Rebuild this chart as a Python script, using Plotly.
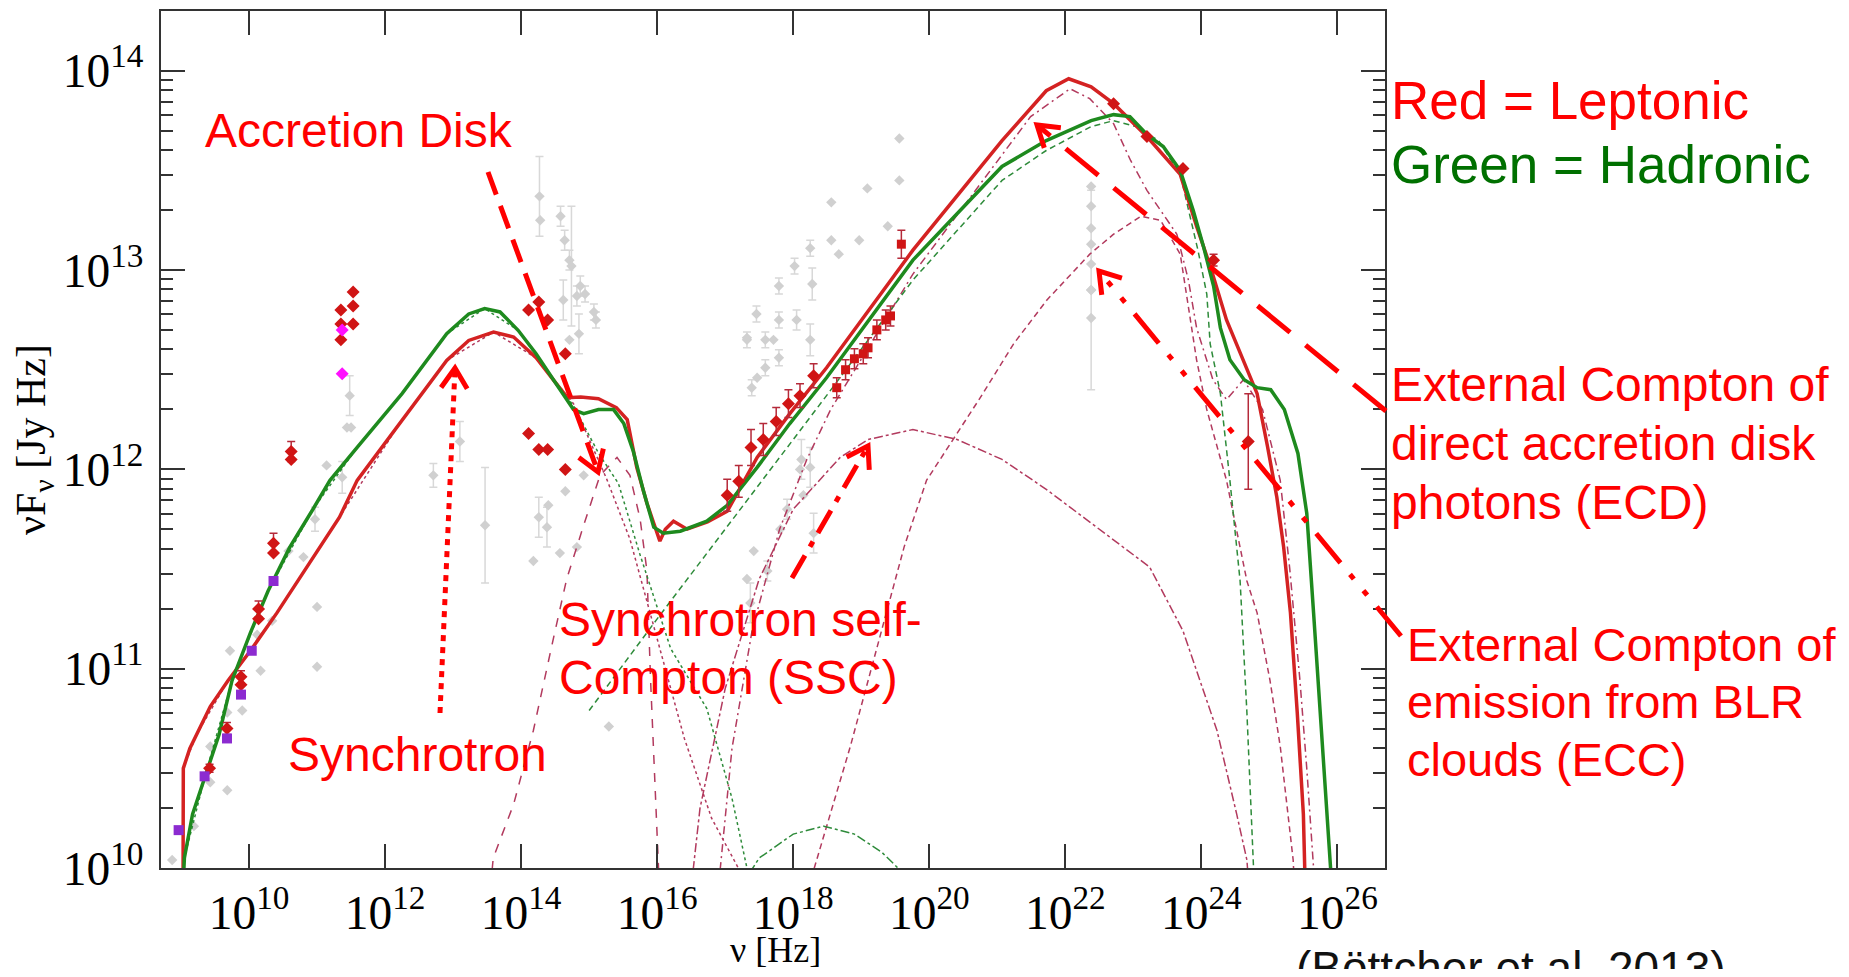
import numpy as np
import plotly.graph_objects as go

# ---------------- data (log10 nu [Hz], log10 nuFnu [Jy Hz]) ----------------
lep_total_lognu = [9.03, 9.034, 9.13, 9.23, 9.43, 9.69, 10.02, 10.41, 10.94, 11.33, 11.59, 12.25,
                   12.906, 13.23, 13.595, 13.89, 14.22, 14.48, 14.68, 14.876, 15.137, 15.40, 15.56,
                   15.70, 15.85, 15.95, 16.04, 16.12, 16.24, 16.44, 16.74, 17.03, 17.47, 17.95, 18.49,
                   19.76, 21.07, 21.72, 22.05, 22.38, 22.71, 23.20, 23.44, 23.69, 23.93, 24.13, 24.37,
                   24.62, 24.82, 24.97, 25.11, 25.21, 25.31, 25.41, 25.50, 25.52, 25.53]
lep_total_logflux = [9.9, 10.5, 10.6, 10.67, 10.81, 10.94, 11.09, 11.28, 11.56, 11.76, 11.945, 12.25,
                     12.547, 12.647, 12.689, 12.664, 12.56, 12.447, 12.36, 12.363, 12.355, 12.31, 12.25,
                     12.01, 11.83, 11.73, 11.64, 11.70, 11.74, 11.70, 11.736, 11.79, 12.06, 12.28, 12.51,
                     13.10, 13.65, 13.90, 13.96, 13.92, 13.835, 13.67, 13.58, 13.48, 13.22, 13.02, 12.75,
                     12.55, 12.38, 12.12, 11.86, 11.61, 11.28, 10.78, 10.27, 10.0, 9.9]

had_total_lognu = [9.03, 9.05, 9.17, 9.36, 9.56, 9.75, 10.02, 10.28, 10.6, 10.94, 11.19, 11.59, 12.25,
                   12.906, 13.23, 13.464, 13.69, 13.956, 14.22, 14.48, 14.77, 14.92, 15.137, 15.36,
                   15.51, 15.65, 15.80, 15.95, 16.09, 16.34, 16.73, 17.03, 17.47, 17.95, 18.49, 19.76,
                   21.07, 21.72, 22.38, 22.71, 22.95, 23.20, 23.44, 23.69, 23.88, 24.03, 24.18, 24.28,
                   24.42, 24.63, 24.82, 25.02, 25.22, 25.42, 25.55, 25.65, 25.75, 25.85, 25.90, 25.91]
had_total_logflux = [9.9, 10.05, 10.27, 10.47, 10.67, 10.94, 11.18, 11.39, 11.61, 11.80, 11.945, 12.11,
                     12.38, 12.681, 12.78, 12.807, 12.79, 12.698, 12.58, 12.447, 12.30, 12.28, 12.30,
                     12.30, 12.23, 12.09, 11.89, 11.71, 11.68, 11.69, 11.74, 11.82, 12.01, 12.23, 12.46,
                     13.05, 13.52, 13.65, 13.75, 13.78, 13.77, 13.68, 13.62, 13.50, 13.30, 13.12, 12.92,
                     12.71, 12.55, 12.45, 12.41, 12.40, 12.30, 12.08, 11.78, 11.28, 10.78, 10.27, 10.0, 9.9]

# leptonic components
lep_sync_lognu = [9.03, 9.034, 9.23, 9.69, 10.41, 11.33, 12.25, 12.906, 13.595, 14.22, 14.77, 15.26,
                  15.6, 16.0, 16.4, 16.8, 17.2, 17.35]
lep_sync_logflux = [9.9, 10.5, 10.67, 10.94, 11.28, 11.76, 12.25, 12.547, 12.689, 12.56, 12.33, 11.95,
                    11.65, 11.15, 10.65, 10.25, 10.0, 9.9]
lep_disk_lognu = [13.55, 13.59, 13.89, 14.18, 14.48, 14.67, 14.92, 15.16, 15.41, 15.60, 15.75, 15.85,
                  15.90, 15.97, 16.02, 16.03]
lep_disk_logflux = [9.9, 10.05, 10.32, 10.69, 11.16, 11.45, 11.72, 11.97, 12.06, 11.97, 11.75, 11.49,
                    10.97, 10.45, 10.0, 9.9]
lep_ssc_lognu = [16.5, 16.63, 17.0, 17.5, 18.0, 18.69, 19.1, 19.76, 20.41, 21.07, 21.72, 22.38, 23.04,
                 23.24, 23.73, 24.23, 24.52, 24.67, 24.7]
lep_ssc_logflux = [9.9, 10.3, 10.9, 11.45, 11.8, 12.06, 12.15, 12.2, 12.15, 12.05, 11.9, 11.73, 11.56,
                   11.51, 11.19, 10.69, 10.27, 10.04, 9.9]
lep_ecd_lognu = [16.9, 17.1, 17.4, 17.8, 18.2, 18.55, 19.76, 21.0, 21.49, 22.07, 22.36, 22.71, 22.96,
                 23.20, 23.44, 23.64, 23.81, 23.93, 24.17, 24.37, 24.62, 24.9, 25.16, 25.3, 25.45,
                 25.55, 25.65, 25.67]
lep_ecd_logflux = [9.9, 10.6, 11.2, 11.7, 12.05, 12.3, 12.98, 13.55, 13.77, 13.91, 13.86, 13.735,
                   13.55, 13.40, 13.28, 13.18, 12.95, 12.71, 12.45, 12.35, 12.45, 12.3, 11.945, 11.5,
                   10.94, 10.5, 10.0, 9.9]
lep_ecc_lognu = [18.25, 18.31, 18.84, 19.23, 19.63, 19.96, 20.41, 20.75, 21.24, 21.73, 22.36, 22.71,
                 23.11, 23.40, 23.69, 23.78, 23.93, 24.08, 24.22, 24.37, 24.67, 24.82, 25.01, 25.16,
                 25.35, 25.37]
lep_ecc_logflux = [9.9, 10.0, 10.61, 11.11, 11.61, 11.945, 12.18, 12.36, 12.63, 12.85, 13.08, 13.18,
                   13.27, 13.25, 13.08, 12.88, 12.55, 12.30, 12.13, 11.945, 11.44, 11.28, 10.94, 10.61,
                   10.04, 9.9]

# hadronic components
had_esync_lognu = [9.03, 9.05, 9.36, 9.75, 10.28, 10.94, 11.59, 12.25, 12.906, 13.464, 13.956, 14.48,
                   14.77, 15.14, 15.43, 15.75, 16.2, 16.73, 17.1, 17.32, 17.36]
had_esync_logflux = [9.9, 10.05, 10.47, 10.94, 11.39, 11.8, 12.11, 12.38, 12.681, 12.807, 12.698, 12.447,
                     12.32, 12.08, 11.93, 11.57, 11.1, 10.8, 10.35, 10.0, 9.9]
had_psync_lognu = [15.0, 16.0, 17.0, 18.49, 19.76, 21.07, 21.72, 22.38, 22.71, 23.04, 23.37, 23.69,
                   23.95, 24.08, 24.13, 24.28, 24.42, 24.57, 24.67, 24.77, 24.78]
had_psync_logflux = [10.79, 11.25, 11.7, 12.37, 12.95, 13.45, 13.6, 13.72, 13.75, 13.72, 13.65, 13.48,
                     13.1, 12.88, 12.63, 12.38, 11.945, 11.44, 10.78, 10.04, 9.9]
had_bump_lognu = [17.22, 17.5, 18.0, 18.45, 18.9, 19.3, 19.69, 19.75]
had_bump_logflux = [9.9, 10.05, 10.17, 10.21, 10.17, 10.08, 9.95, 9.9]

# simultaneous data (red diamonds)
red_pts_lognu = [9.42, 9.676, 9.882, 9.882, 10.14, 10.14, 10.36, 10.36, 10.62, 10.62,
                 11.35, 11.35, 11.35, 11.53, 11.53, 11.53,
                 14.11, 14.26, 14.39, 14.65, 14.11, 14.26, 14.39, 14.65,
                 17.03, 17.20, 17.38, 17.56, 17.75, 17.93, 18.10, 18.30,
                 22.71, 23.20, 23.73, 24.18, 24.69]
red_pts_logflux = [10.50, 10.70, 10.96, 10.92, 11.30, 11.25, 11.63, 11.58, 12.09, 12.05,
                   12.80, 12.73, 12.65, 12.89, 12.82, 12.73,
                   12.80, 12.84, 12.75, 12.58, 12.18, 12.10, 12.10, 12.00,
                   11.87, 11.94, 12.11, 12.15, 12.24, 12.33, 12.37, 12.47,
                   13.835, 13.67, 13.51, 13.05, 12.14]
red_pts_err = [0.02, 0.03, 0.03, 0.0, 0.04, 0.0, 0.05, 0.0, 0.05, 0.0,
               0, 0, 0, 0, 0, 0,
               0, 0, 0, 0, 0, 0, 0, 0,
               0.08, 0.08, 0.09, 0.08, 0.07, 0.07, 0.06, 0.06,
               0.0, 0.0, 0.0, 0.03, 0.24]
red_sq_lognu = [18.64, 18.77, 18.90, 19.03, 19.10, 19.23, 19.36, 19.43, 19.59]
red_sq_logflux = [12.41, 12.50, 12.555, 12.58, 12.61, 12.70, 12.75, 12.77, 13.13]
red_sq_err = [0.05, 0.05, 0.05, 0.05, 0.05, 0.05, 0.05, 0.05, 0.07]

purple_lognu = [8.965, 9.347, 9.676, 9.882, 10.04, 10.36]
purple_logflux = [10.19, 10.46, 10.65, 10.87, 11.09, 11.44]
magenta_lognu = [11.37, 11.37]
magenta_logflux = [12.70, 12.48]

# archival data (grey)
grey_lognu = [8.87, 9.19, 9.43, 9.68, 9.43, 9.68, 9.90, 10.17, 9.72, 10.12, 10.34, 10.58, 10.80, 11.0,
              11.0, 10.97, 11.14, 11.37, 11.44, 11.50, 11.48, 12.71, 13.1, 13.47,
              14.27, 14.28, 14.58, 14.64, 14.71, 14.74, 14.87, 14.94, 15.07, 15.10, 14.85, 14.71,
              14.62, 14.82, 14.18, 14.26, 14.38, 14.57, 14.82, 14.65, 14.40, 14.92, 15.29,
              19.56, 19.56, 19.09, 18.56, 18.56, 18.97, 18.67, 19.39, 18.25, 18.02, 17.79, 18.28,
              17.46, 17.79, 18.05, 17.32, 17.59, 18.25, 17.79, 17.59, 17.39, 18.12, 18.25, 17.32,
              17.71, 17.47, 17.81, 17.42, 17.62, 17.32, 17.37, 18.10, 18.15, 17.91, 18.30,
              22.38, 22.38, 22.38, 22.38, 22.38, 22.38, 22.38, 22.38]
grey_logflux = [10.04, 10.21, 10.43, 10.39, 10.61, 10.78, 10.79, 10.99, 11.09, 11.17, 11.24, 11.59,
                11.56, 11.31, 11.01, 11.75, 12.02, 11.96, 12.21, 12.21, 12.37, 11.97, 12.14, 11.72,
                13.37, 13.25, 13.27, 13.15, 13.05, 13.02, 12.92, 12.88, 12.79, 12.75, 12.68, 12.65,
                12.85, 12.87, 11.54, 11.76, 11.71, 11.58, 11.61, 11.89, 11.82, 11.97, 10.71,
                13.66, 13.45, 13.41, 13.34, 13.15, 13.15, 13.08, 13.22, 13.11, 13.02, 12.92, 12.93,
                12.78, 12.75, 12.75, 12.65, 12.65, 12.65, 12.56, 12.51, 12.41, 12.05, 12.01, 12.66,
                12.65, 12.46, 11.70, 11.59, 11.49, 11.45, 11.33, 12.0, 11.87, 11.80, 11.68,
                13.42, 13.32, 13.21, 13.13, 13.03, 12.90, 12.76, 12.9]
grey_err = [0, 0, 0, 0, 0, 0, 0, 0, 0, 0, 0, 0, 0, 0, 0, 0.06, 0, 0.08, 0, 0, 0.1, 0.06, 0.1, 0.29,
            0.2, 0, 0.05, 0.05, 0.05, 0.3, 0.05, 0.04, 0.04, 0.04, 0.1, 0, 0.1, 0.05, 0, 0.1, 0.1,
            0, 0, 0, 0, 0, 0,
            0, 0, 0, 0, 0, 0, 0, 0, 0.04, 0.04, 0.04, 0.08, 0.04, 0.04, 0.05, 0.04, 0.04, 0.08,
            0.04, 0.04, 0.04, 0.1, 0.1, 0, 0, 0, 0, 0, 0.05, 0, 0.1, 0, 0, 0.05, 0.1,
            0, 0, 0, 0, 0, 0, 0, 0.5]

# axis ranges (log10)
x_range = [8.706, 26.70]
y_range = [10.0, 14.30]

# ---------------- figure geometry ----------------
# the page body has an 8px margin; the figure is sized to fill the window inside it
OFF = 8
W, H = 1849 - 2 * OFF, 977 - 2 * OFF
# plot area in window pixels: x 161..1385, y 11..868
L, R, T, B = 161 - OFF, 1385 - OFF, 11 - OFF, 868 - OFF

LEP = '#D42222'
HAD = '#1E8A1E'
LEP_THIN = '#B23A5E'
HAD_THIN = '#2E8B3A'
GREY = '#D0D0D0'

fig = go.Figure()


def add_line(lx, ly, color, width, dash):
    fig.add_trace(go.Scatter(x=10 ** np.array(lx), y=10 ** np.array(ly), mode='lines',
                             line=dict(color=color, width=width, dash=dash),
                             hoverinfo='skip', showlegend=False))


def add_points(lx, ly, err, symbol, color, size, ecolor):
    lx = np.array(lx, dtype=float)
    ly = np.array(ly, dtype=float)
    e = np.array(err, dtype=float) if err is not None else np.zeros_like(ly)
    y = 10 ** ly
    up = 10 ** (ly + e) - y
    dn = y - 10 ** (ly - e)
    fig.add_trace(go.Scatter(x=10 ** lx, y=y, mode='markers',
                             marker=dict(symbol=symbol, color=color, size=size, line=dict(width=0)),
                             error_y=dict(type='data', array=up, arrayminus=dn, visible=True,
                                          color=ecolor, thickness=1.5, width=4),
                             hoverinfo='skip', showlegend=False))


# archival data
add_points(grey_lognu, grey_logflux, grey_err, 'diamond', GREY, 8, '#D8D8D8')

# thin components
add_line(lep_sync_lognu, lep_sync_logflux, LEP_THIN, 1.5, 'dot')
add_line(lep_disk_lognu, lep_disk_logflux, LEP_THIN, 1.5, 'dash')
add_line(lep_ssc_lognu, lep_ssc_logflux, LEP_THIN, 1.5, 'dashdot')
add_line(lep_ecd_lognu, lep_ecd_logflux, LEP_THIN, 1.5, '8px,4px,2px,4px')
add_line(lep_ecc_lognu, lep_ecc_logflux, LEP_THIN, 1.5, '6px,4px')
add_line(had_esync_lognu, had_esync_logflux, HAD_THIN, 1.5, 'dot')
add_line(had_psync_lognu, had_psync_logflux, HAD_THIN, 1.5, '6px,4px')
add_line(had_bump_lognu, had_bump_logflux, HAD_THIN, 1.5, 'dashdot')

# totals
add_line(lep_total_lognu, lep_total_logflux, LEP, 3.5, 'solid')
add_line(had_total_lognu, had_total_logflux, HAD, 3.5, 'solid')

# simultaneous data
add_points(red_pts_lognu, red_pts_logflux, red_pts_err, 'diamond', '#D01515', 10, '#B52A3A')
add_points(red_sq_lognu, red_sq_logflux, red_sq_err, 'square', '#D01515', 9, '#B52A3A')
add_points(purple_lognu, purple_logflux, None, 'square', '#8C2BD0', 10, '#8C2BD0')
add_points(magenta_lognu, magenta_logflux, None, 'diamond', '#FF10FF', 10, '#FF10FF')

fig.update_layout(
    width=W, height=H, autosize=False,
    margin=dict(l=L, r=W - R, t=T, b=H - B, pad=0),
    paper_bgcolor='white', plot_bgcolor='white', showlegend=False,
)

axis_font = dict(family='Liberation Serif', size=38, color='black')
fig.update_xaxes(
    type='log', range=x_range, dtick=2, tick0=0, ticks='inside', ticklen=24, tickwidth=2,
    tickcolor='#333333', showline=True, linewidth=2, linecolor='#333333', mirror='ticks',
    showgrid=False, zeroline=False, exponentformat='power', tickfont=axis_font,
    ticklabelstandoff=4, automargin=False,
)
fig.update_yaxes(
    type='log', range=y_range, dtick=1, ticks='inside', ticklen=24, tickwidth=2,
    tickcolor='#333333', showline=True, linewidth=2, linecolor='#333333', mirror='ticks',
    showgrid=False, zeroline=False, exponentformat='power', tickfont=axis_font,
    ticklabelstandoff=8, automargin=False,
    minor=dict(ticks='inside', ticklen=12, tickwidth=2, tickcolor='#333333', dtick='D1', showgrid=False),
    title=dict(text='νF<sub>ν</sub> [Jy Hz]', font=dict(family='Liberation Serif', size=42, color='black'),
               standoff=18),
)


def paper(x, y):
    """window pixel -> paper coordinate"""
    return (x - OFF - L) / (R - L), (B - (y - OFF)) / (B - T)


# x-axis title: placed as an annotation so it can sit at the very bottom edge like the original
xt, yt = paper(775, 950)
fig.add_annotation(x=xt, y=yt, xref='paper', yref='paper', text='ν [Hz]', showarrow=False,
                   xanchor='center', yanchor='middle',
                   font=dict(family='Liberation Serif', size=36, color='black'))

# ---------------- text annotations (window pixel positions) ----------------
texts = [
    ('Accretion Disk', 203, 130, 48, '#FF0000'),
    ('Red = Leptonic', 1389, 101, 53, '#FF0000'),
    ('Green = Hadronic', 1389, 165, 53, '#007000'),
    ('External Compton of', 1389, 384, 48, '#FF0000'),
    ('direct accretion disk', 1389, 443, 48, '#FF0000'),
    ('photons (ECD)', 1389, 502, 48, '#FF0000'),
    ('External Compton of', 1405, 644, 47, '#FF0000'),
    ('emission from BLR', 1405, 701, 47, '#FF0000'),
    ('clouds (ECC)', 1405, 759, 47, '#FF0000'),
    ('Synchrotron self-', 557, 619, 48, '#FF0000'),
    ('Compton (SSC)', 557, 677, 48, '#FF0000'),
    ('Synchrotron', 286, 754, 48, '#FF0000'),
    ('(Böttcher et al. 2013)', 1294, 968, 46, '#111111'),
]
for txt, x, y, size, color in texts:
    px, py = paper(x, y)
    fig.add_annotation(x=px, y=py, xref='paper', yref='paper', text=txt, showarrow=False,
                       xanchor='left', yanchor='middle',
                       font=dict(family='Liberation Sans', size=size, color=color))

# ---------------- arrows (window pixel positions of overlays) ----------------
arrows = [
    ((488, 172), (598, 472), '24px,12px'),
    ((440, 713), (455, 368), '6px,6px'),
    ((792, 578), (868, 446), '26px,10px,6px,10px'),
    ((1386, 411), (1037, 125), '42px,20px'),
    ((1401, 636), (1099, 271), '38px,15px,6px,15px,6px,15px'),
]
shapes = []
head_len, head_ang = 24, np.radians(33)
for (tx, ty), (hx, hy), dash in arrows:
    x0, y0 = paper(tx, ty)
    x1, y1 = paper(hx, hy)
    shapes.append(dict(type='line', xref='paper', yref='paper', x0=x0, y0=y0, x1=x1, y1=y1,
                       line=dict(color='#FF0000', width=5, dash=dash)))
    dx, dy = hx - tx, hy - ty
    n = np.hypot(dx, dy)
    bx, by = -dx / n, -dy / n
    pts = []
    for s in (1, -1):
        a = s * head_ang
        rx = bx * np.cos(a) - by * np.sin(a)
        ry = bx * np.sin(a) + by * np.cos(a)
        pts.append(paper(hx + head_len * rx, hy + head_len * ry))
    tip = paper(hx, hy)
    path = 'M {:.5f},{:.5f} L {:.5f},{:.5f} L {:.5f},{:.5f}'.format(pts[0][0], pts[0][1], tip[0], tip[1],
                                                                   pts[1][0], pts[1][1])
    shapes.append(dict(type='path', xref='paper', yref='paper', path=path,
                       line=dict(color='#FF0000', width=5), fillcolor='rgba(0,0,0,0)'))
fig.update_layout(shapes=shapes)

fig.write_html('out.html')
